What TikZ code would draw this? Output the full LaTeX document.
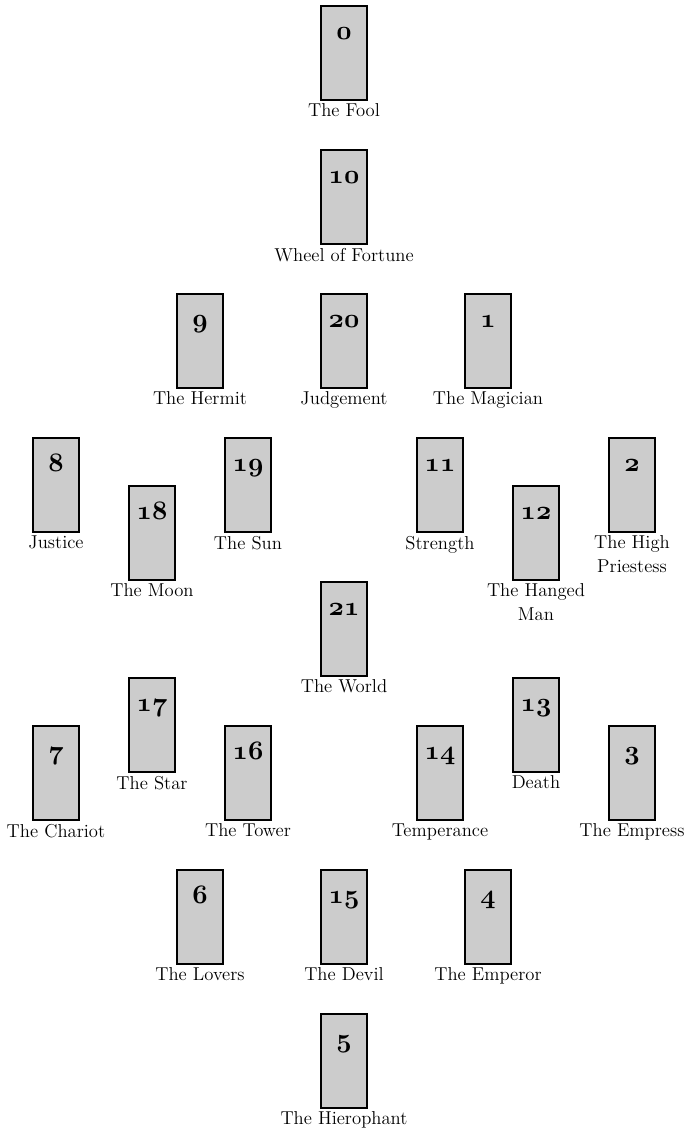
\RequirePackage{fix-cm}
\documentclass[tikz,border=0pt]{standalone}
\usepackage{tikz}
\usetikzlibrary{positioning}

\begin{document}
\begin{tikzpicture}[
        x=0.75pt, y=-0.75pt,
        card/.style = {draw=black, line width=1.5pt, fill=black!20,
                       minimum width=34.5pt, minimum height=70.5pt, inner sep=0pt},
        num/.style  = {anchor=base, yshift=-26pt, inner sep=0pt,
                       font=\fontsize{20}{20}\usefont{OML}{cmm}{b}{it}},
        lbl/.style  = {anchor=north, inner sep=2pt, align=center,
                       font=\fontsize{14}{18}\selectfont},
    ]
        \useasboundingbox (0,0) rectangle (686,1133);

        % ---- fila superior: 0, 10 ----
        \node (c0)  [card] at (344, 53)  {};
        \node (n0)  [num]  at (c0.north)  {0};
        \node (l0)  [lbl]  at (c0.south)  {The Fool};

        \node (c10) [card] at (344, 197) {};
        \node (n10) [num]  at (c10.north) {10};
        \node (l10) [lbl]  at (c10.south) {Wheel of Fortune};

        % ---- 9, 20, 1 ----
        \node (c9)  [card] at (200, 341) {};
        \node (n9)  [num]  at (c9.north)  {9};
        \node (l9)  [lbl]  at (c9.south)  {The Hermit};

        \node (c20) [card] at (344, 341) {};
        \node (n20) [num]  at (c20.north) {20};
        \node (l20) [lbl]  at (c20.south) {Judgement};

        \node (c1)  [card] at (488, 341) {};
        \node (n1)  [num]  at (c1.north)  {1};
        \node (l1)  [lbl]  at (c1.south)  {The Magician};

        % ---- 8, 19, 11, 2 ----
        \node (c8)  [card] at (56, 485)  {};
        \node (n8)  [num]  at (c8.north)  {8};
        \node (l8)  [lbl]  at (c8.south)  {Justice};

        \node (c19) [card] at (248, 485) {};
        \node (n19) [num]  at (c19.north) {19};
        \node (l19) [lbl]  at (c19.south) {The Sun};

        \node (c11) [card] at (440, 485) {};
        \node (n11) [num]  at (c11.north) {11};
        \node (l11) [lbl]  at (c11.south) {Strength};

        \node (c2)  [card] at (632, 485) {};
        \node (n2)  [num]  at (c2.north)  {2};
        \node (l2)  [lbl]  at (c2.south)  {The High\\Priestess};

        % ---- 18, 12 ----
        \node (c18) [card] at (152, 533) {};
        \node (n18) [num]  at (c18.north) {18};
        \node (l18) [lbl]  at (c18.south) {The Moon};

        \node (c12) [card] at (536, 533) {};
        \node (n12) [num]  at (c12.north) {12};
        \node (l12) [lbl]  at (c12.south) {The Hanged\\Man};

        % ---- centro: 21 ----
        \node (c21) [card] at (344, 629) {};
        \node (n21) [num]  at (c21.north) {21};
        \node (l21) [lbl]  at (c21.south) {The World};

        % ---- 17, 13 ----
        \node (c17) [card] at (152, 725) {};
        \node (n17) [num]  at (c17.north) {17};
        \node (l17) [lbl]  at (c17.south) {The Star};

        \node (c13) [card] at (536, 725) {};
        \node (n13) [num]  at (c13.north) {13};
        \node (l13) [lbl]  at (c13.south) {Death};

        % ---- 7, 16, 14, 3 ----
        \node (c7)  [card] at (56, 773)  {};
        \node (n7)  [num]  at (c7.north)  {7};
        \node (l7)  [lbl]  at (c7.south)  {The Chariot};

        \node (c16) [card] at (248, 773) {};
        \node (n16) [num]  at (c16.north) {16};
        \node (l16) [lbl]  at (c16.south) {The Tower};

        \node (c14) [card] at (440, 773) {};
        \node (n14) [num]  at (c14.north) {14};
        \node (l14) [lbl]  at (c14.south) {Temperance};

        \node (c3)  [card] at (632, 773) {};
        \node (n3)  [num]  at (c3.north)  {3};
        \node (l3)  [lbl]  at (c3.south)  {The Empress};

        % ---- 6, 15, 4 ----
        \node (c6)  [card] at (200, 917) {};
        \node (n6)  [num]  at (c6.north)  {6};
        \node (l6)  [lbl]  at (c6.south)  {The Lovers};

        \node (c15) [card] at (344, 917) {};
        \node (n15) [num]  at (c15.north) {15};
        \node (l15) [lbl]  at (c15.south) {The Devil};

        \node (c4)  [card] at (488, 917) {};
        \node (n4)  [num]  at (c4.north)  {4};
        \node (l4)  [lbl]  at (c4.south)  {The Emperor};

        % ---- fila inferior: 5 ----
        \node (c5)  [card] at (344, 1061) {};
        \node (n5)  [num]  at (c5.north)  {5};
        \node (l5)  [lbl]  at (c5.south)  {The Hierophant};
    \end{tikzpicture}
\end{document}
